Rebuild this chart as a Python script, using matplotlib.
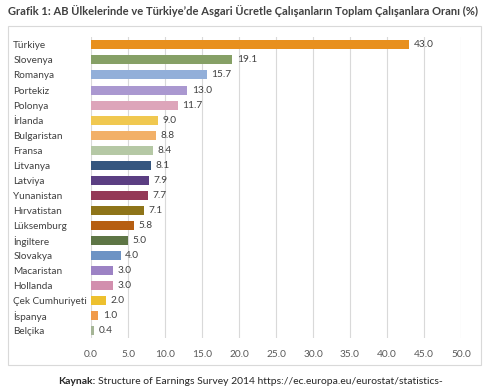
import matplotlib
matplotlib.use("Agg")
import matplotlib.pyplot as plt
from matplotlib.patches import Rectangle

plt.rcParams['font.family'] = ['Lato', 'DejaVu Sans']

countries = ['Türkiye', 'Slovenya', 'Romanya', 'Portekiz', 'Polonya', 'İrlanda',
             'Bulgaristan', 'Fransa', 'Litvanya', 'Latviya', 'Yunanistan',
             'Hırvatistan', 'Lüksemburg', 'İngiltere', 'Slovakya', 'Macaristan',
             'Hollanda', 'Çek Cumhuriyeti', 'İspanya', 'Belçika']
values = [43.0, 19.1, 15.7, 13.0, 11.7, 9.0, 8.8, 8.4, 8.1, 7.9, 7.7,
          7.1, 5.8, 5.0, 4.0, 3.0, 3.0, 2.0, 1.0, 0.4]
colors = ['#E8901E', '#86A066', '#92AFD9', '#AA98D0', '#DDA5BA', '#F0C850',
          '#F2B068', '#B5C8A5', '#35567F', '#5B3E82', '#943957',
          '#8E7419', '#B65E12', '#5D7545', '#6D93C4', '#9C82C4',
          '#D28FAE', '#EDC02E', '#F09A4A', '#A5B596']
xticks = [0, 5, 10, 15, 20, 25, 30, 35, 40, 45, 50]

fig = plt.figure(figsize=(5, 3.89), dpi=100)
ax = fig.add_axes([0.182, 0.13, 0.74, 0.774])

ypos = list(range(len(countries)))
ax.barh(ypos, values, height=0.6, color=colors, zorder=3)
for y, v in zip(ypos, values):
    ax.text(v + 0.6, y, f'{v:.1f}', va='center', ha='left', fontsize=7.3, color='#404040')

ax.set_ylim(len(countries) - 0.5, -0.5)
ax.set_xlim(0, 50)
ax.set_yticks(ypos)
ax.set_yticklabels(countries, fontsize=7.2, color='#404040')
ax.set_xticks(xticks)
ax.set_xticklabels([f'{t:.1f}' for t in xticks], fontsize=7.3, color='#595959')
ax.tick_params(length=0)
for lbl in ax.get_yticklabels():
    lbl.set_horizontalalignment('left')
    lbl.set_x(-0.146 / 0.74)
ax.tick_params(axis='x', pad=8)
ax.grid(axis='x', color='#D9D9D9', linewidth=0.8, zorder=0)
for s in ax.spines.values():
    s.set_visible(False)

# outer chart border
fig.patches.append(Rectangle((8 / 500, 1 - 365 / 389), 473 / 500, 339 / 389,
                             transform=fig.transFigure, fill=False,
                             edgecolor='#D9D9D9', linewidth=0.8))

fig.text(8 / 500, 1 - 11 / 389, 'Grafik 1: AB Ülkelerinde ve Türkiye’de Asgari Ücretle Çalışanların Toplam Çalışanlara Oranı (%)',
         fontsize=8, fontweight='bold', color='#404040', va='center', ha='left')

k = fig.text(58 / 500, 1 - 381 / 389, 'Kaynak:', fontsize=7.5, fontweight='bold',
             color='#262626', va='center', ha='left')
fig.canvas.draw()
bb = k.get_window_extent().transformed(fig.transFigure.inverted())
fig.text(bb.x1 + 0.006, 1 - 381 / 389,
         'Structure of Earnings Survey 2014 https://ec.europa.eu/eurostat/statistics-',
         fontsize=7.5, color='#262626', va='center', ha='left')

fig.savefig('out.png', dpi=100)
